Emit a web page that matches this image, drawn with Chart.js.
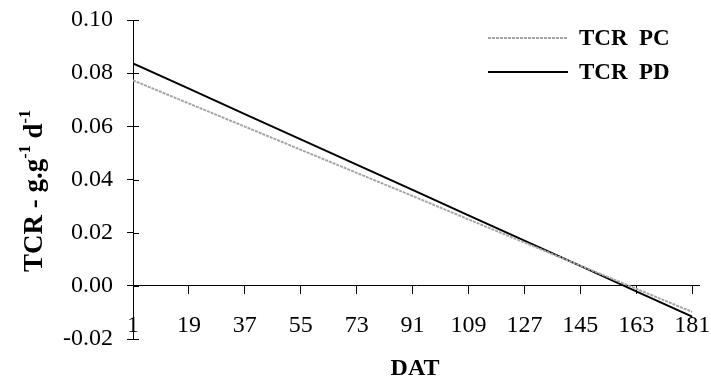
<!DOCTYPE html>
<html>
<head>
<meta charset="utf-8">
<script src="https://cdn.jsdelivr.net/npm/chart.js@4/dist/chart.umd.min.js"></script>
<style>
  html, body { margin: 0; padding: 0; background: #ffffff; }
  #wrap { width: 711px; height: 380px; }
</style>
</head>
<body>
<div id="wrap"><canvas id="tcrChart" width="711" height="380"></canvas></div>
<script>
// Days after transplanting (DAT) used as x positions and tick labels
const days = [1, 19, 37, 55, 73, 91, 109, 127, 145, 163, 181];
const dayTicks = [1, 19, 37, 55, 73, 91, 109, 127, 145, 163, 181];

// Relative growth rate (TCR) for each treatment
const tcrPC = [0.0773, 0.0686, 0.0599, 0.0512, 0.0425, 0.0338, 0.0250, 0.0163, 0.0076, -0.0011, -0.0098];
const tcrPD = [0.0837, 0.0742, 0.0646, 0.0551, 0.0456, 0.0361, 0.0265, 0.0170, 0.0075, -0.0021, -0.0116];

const seriesNames = ['TCR  PC', 'TCR  PD'];

const serif = '"Liberation Serif", "Times New Roman", Times, serif';
Chart.defaults.font.family = serif;
Chart.defaults.color = '#000000';

function toPoints(values) {
    return days.map((d, i) => ({ x: d, y: values[i] }));
}

// Draws text made of pieces, some of them raised as superscripts
function drawRich(ctx, parts, size) {
    let total = 0;
    parts.forEach(p => {
        ctx.font = 'bold ' + (p.sup ? size * 0.6 : size) + 'px ' + serif;
        p.w = ctx.measureText(p.t).width;
        total += p.w;
    });
    let x = -total / 2;
    parts.forEach(p => {
        ctx.font = 'bold ' + (p.sup ? size * 0.6 : size) + 'px ' + serif;
        ctx.fillText(p.t, x, p.sup ? -size * 0.45 : 0);
        x += p.w;
    });
}

// Inner tick marks, axis titles and the line legend
const extrasPlugin = {
    id: 'extras',
    afterDraw(chart) {
        const ctx = chart.ctx;
        const yScale = chart.scales.y;
        const left = chart.chartArea.left;

        ctx.save();
        ctx.strokeStyle = '#000000';
        ctx.lineWidth = 1;
        yScale.ticks.forEach(t => {
            const py = Math.round(yScale.getPixelForValue(t.value)) + 0.5;
            ctx.beginPath();
            ctx.moveTo(left, py);
            ctx.lineTo(left + 6, py);
            ctx.stroke();
        });

        ctx.fillStyle = '#000000';
        ctx.textBaseline = 'alphabetic';

        // x-axis title
        ctx.font = 'bold 24px ' + serif;
        ctx.textAlign = 'center';
        ctx.fillText('DAT', 415, 375);

        // y-axis title, rotated
        ctx.save();
        ctx.translate(42, 191);
        ctx.rotate(-Math.PI / 2);
        ctx.textAlign = 'left';
        drawRich(ctx, [
            { t: 'TCR - g.g' },
            { t: '-1', sup: true },
            { t: ' d' },
            { t: '-1', sup: true }
        ], 27);
        ctx.restore();

        // legend
        const rows = [38, 72];
        chart.data.datasets.forEach((ds, i) => {
            const y = rows[i];
            ctx.save();
            ctx.strokeStyle = ds.borderColor;
            ctx.lineWidth = ds.borderWidth;
            ctx.setLineDash(ds.borderDash || []);
            ctx.beginPath();
            ctx.moveTo(488, y);
            ctx.lineTo(568, y);
            ctx.stroke();
            ctx.restore();
            ctx.font = 'bold 23px ' + serif;
            ctx.textAlign = 'left';
            ctx.fillText(ds.label, 579, y + 7);
        });
        ctx.restore();
    }
};

function buildChart() {
    const ctx = document.getElementById('tcrChart').getContext('2d');
    new Chart(ctx, {
        type: 'line',
        data: {
            datasets: [
                {
                    label: seriesNames[0],
                    data: toPoints(tcrPC),
                    borderColor: '#a6a6a6',
                    borderWidth: 2,
                    borderDash: [3, 1],
                    pointRadius: 0,
                    tension: 0
                },
                {
                    label: seriesNames[1],
                    data: toPoints(tcrPD),
                    borderColor: '#000000',
                    borderWidth: 2,
                    pointRadius: 0,
                    tension: 0
                }
            ]
        },
        options: {
            responsive: false,
            animation: false,
            layout: { padding: { left: 0, top: 20, right: 12, bottom: 41 } },
            plugins: {
                legend: { display: false },
                tooltip: { enabled: false }
            },
            scales: {
                x: {
                    type: 'linear',
                    position: { y: 0 },
                    min: 1,
                    max: 183.2,
                    afterBuildTicks: scale => {
                        scale.ticks = dayTicks.map(v => ({ value: v }));
                    },
                    afterFit: scale => {
                        scale.paddingLeft = 0;
                        scale.paddingRight = 0;
                    },
                    grid: {
                        drawOnChartArea: false,
                        drawTicks: true,
                        tickLength: 8,
                        color: '#000000'
                    },
                    border: { display: true, color: '#000000', width: 1 },
                    ticks: {
                        padding: 17,
                        maxRotation: 0,
                        autoSkip: false,
                        font: { size: 24 },
                        callback: v => String(v)
                    }
                },
                y: {
                    min: -0.02,
                    max: 0.10,
                    afterFit: scale => {
                        scale.width = 133;
                        scale.paddingTop = 0;
                        scale.paddingBottom = 0;
                    },
                    grid: {
                        drawOnChartArea: false,
                        drawTicks: true,
                        tickLength: 6,
                        color: '#000000'
                    },
                    border: { display: true, color: '#000000', width: 1 },
                    ticks: {
                        stepSize: 0.02,
                        padding: 14,
                        font: { size: 24 },
                        callback: v => v.toFixed(2)
                    }
                }
            }
        },
        plugins: [extrasPlugin]
    });
}

document.fonts.load('24px "Liberation Serif"').then(buildChart, buildChart);
</script>
</body>
</html>
